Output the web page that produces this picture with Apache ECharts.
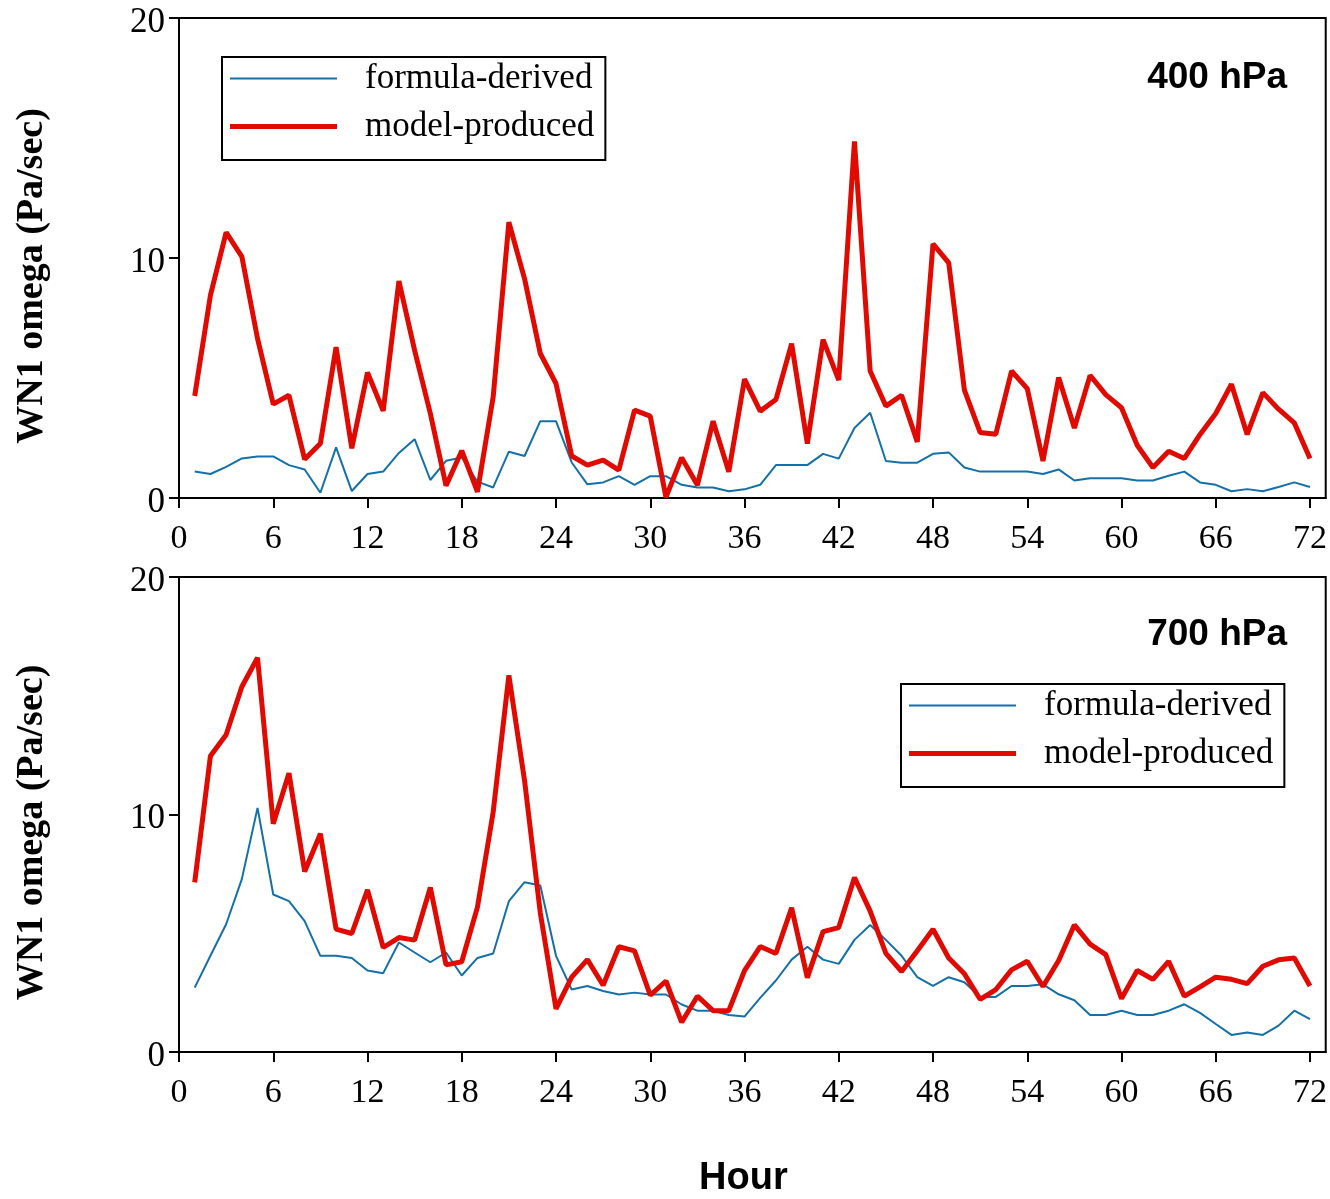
<!DOCTYPE html>
<html>
<head>
<meta charset="utf-8">
<script src="https://cdn.jsdelivr.net/npm/echarts@6/dist/echarts.min.js"></script>
<style>html,body{margin:0;padding:0;background:#fff}#c{width:1330px;height:1199px}</style>
</head>
<body>
<div id="c"></div>
<script>
var hours = [1,2,3,4,5,6,7,8,9,10,11,12,13,14,15,16,17,18,19,20,21,22,23,24,25,26,27,28,29,30,31,32,33,34,35,36,37,38,39,40,41,42,43,44,45,46,47,48,49,50,51,52,53,54,55,56,57,58,59,60,61,62,63,64,65,66,67,68,69,70,71,72];
var xTicks = [0,6,12,18,24,30,36,42,48,54,60,66,72];
var yTicks = [0,10,20];
var seriesNames = ['formula-derived','model-produced'];
var panelLabels = ['400 hPa','700 hPa'];

var formula400 = [1.10,1.00,1.30,1.65,1.73,1.73,1.37,1.19,0.22,2.11,0.29,1.00,1.10,1.88,2.45,0.75,1.55,1.69,0.68,0.44,1.93,1.75,3.20,3.20,
  1.48,0.57,0.65,0.91,0.55,0.91,0.91,0.55,0.44,0.44,0.28,0.36,0.55,1.37,1.37,1.37,1.84,1.64,2.92,3.55,1.54,1.47,1.47,1.84,
  1.90,1.27,1.10,1.10,1.10,1.10,1.00,1.19,0.73,0.82,0.82,0.82,0.73,0.73,0.93,1.10,0.65,0.55,0.28,0.37,0.28,0.46,0.65,0.46];
var model400 = [4.25,8.44,11.07,10.06,6.64,3.91,4.28,1.61,2.27,6.29,2.07,5.23,3.63,9.04,6.15,3.52,0.51,1.97,0.26,4.21,11.49,9.13,6.02,4.77,
  1.75,1.37,1.58,1.16,3.66,3.41,0.03,1.68,0.54,3.20,1.09,4.95,3.62,4.10,6.43,2.27,6.60,4.91,14.86,5.29,3.83,4.28,2.34,10.59,
  9.80,4.49,2.73,2.66,5.29,4.56,1.54,5.02,2.92,5.11,4.31,3.76,2.20,1.27,1.95,1.65,2.65,3.52,4.74,2.65,4.39,3.70,3.13,1.65];
var formula700 = [2.71,4.05,5.38,7.28,10.28,6.63,6.35,5.51,4.05,4.05,3.96,3.43,3.32,4.61,4.19,3.78,4.19,3.22,3.96,4.15,6.35,7.15,7.01,4.05,
  2.63,2.78,2.57,2.42,2.50,2.42,2.42,2.00,1.74,1.74,1.56,1.49,2.28,3.01,3.89,4.43,3.89,3.71,4.72,5.35,4.72,4.05,3.15,2.78,
  3.15,2.94,2.32,2.32,2.78,2.78,2.85,2.43,2.18,1.56,1.56,1.74,1.56,1.56,1.74,2.01,1.65,1.18,0.72,0.82,0.72,1.11,1.74,1.38];
var model700 = [7.14,12.46,13.36,15.38,16.60,9.61,11.74,7.60,9.19,5.17,4.99,6.83,4.40,4.82,4.71,6.93,3.67,3.80,6.10,10.10,15.86,11.42,5.86,1.82,
  3.15,3.89,2.81,4.43,4.26,2.39,2.99,1.25,2.35,1.74,1.74,3.43,4.44,4.15,6.07,3.13,5.07,5.24,7.35,5.93,4.15,3.39,4.26,5.17,
  3.96,3.29,2.22,2.63,3.46,3.82,2.76,3.85,5.35,4.54,4.10,2.25,3.43,3.06,3.82,2.35,2.74,3.15,3.06,2.88,3.61,3.88,3.96,2.78];

function pairs(vals){ return hours.map(function(h,i){ return [h, vals[i]]; }); }

var SERIF = '"Liberation Serif","Times New Roman",serif';
var SANS = '"Liberation Sans",Arial,sans-serif';
var BLUE = '#1470a8', RED = '#e00a00';

function xAx(gi, withName){
  var a = {
    type:'value', gridIndex:gi, min:0, max:73,
    axisLine:{show:true, lineStyle:{color:'#000', width:2}},
    axisTick:{show:true, length:10, lineStyle:{color:'#000', width:2}, customValues:xTicks},
    axisLabel:{fontFamily:SERIF, fontSize:34, color:'#000', margin:24, customValues:xTicks},
    splitLine:{show:false}
  };
  if(withName){
    a.name='Hour'; a.nameLocation='middle'; a.nameGap=108;
    a.nameTextStyle={fontFamily:SANS, fontWeight:'bold', fontSize:38, color:'#000', padding:[0,18,0,0]};
  }
  return a;
}
function yAx(gi){
  return {
    type:'value', gridIndex:gi, min:0, max:20, interval:10,
    name:'WN1 omega (Pa/sec)', nameLocation:'middle', nameGap:128,
    nameTextStyle:{fontFamily:SERIF, fontWeight:'bold', fontSize:38, color:'#000', padding:[0,36,0,0]},
    axisLine:{show:true, lineStyle:{color:'#000', width:2}},
    axisTick:{show:true, length:10, lineStyle:{color:'#000', width:2}},
    axisLabel:{
      margin:14, customValues:yTicks,
      formatter:function(v){ return '{t|' + v + '}'; },
      rich:{t:{fontFamily:SERIF, fontSize:35, color:'#000', padding:[9,0,0,0]}}
    },
    splitLine:{show:false}
  };
}
function legend(left, top){
  return {
    data:[
      {name:seriesNames[0], icon:'path://M0 0H107V2H0Z'},
      {name:seriesNames[1], icon:'path://M0 0H107V5H0Z'}
    ],
    orient:'vertical', left:left, top:top,
    itemWidth:107, itemHeight:14, itemGap:13,
    borderColor:'#000', borderWidth:2, borderRadius:0,
    padding:[4,11,16,8], selectedMode:false,
    textStyle:{fontFamily:SERIF, fontSize:35, color:'#000', lineHeight:34, padding:[0,0,0,23]}
  };
}

var option = {
  animation:false,
  backgroundColor:'#fff',
  grid:[
    {left:179, top:18, width:1147, height:480, show:true, borderColor:'#000', borderWidth:2},
    {left:179, top:577, width:1147, height:479, show:true, borderColor:'#000', borderWidth:2}
  ],
  title:[
    {text:panelLabels[0], right:43, top:59, padding:0, textStyle:{fontFamily:SANS, fontWeight:'bold', fontSize:37, color:'#000'}},
    {text:panelLabels[1], right:43, top:616, padding:0, textStyle:{fontFamily:SANS, fontWeight:'bold', fontSize:37, color:'#000'}}
  ],
  legend:[legend(222,57), legend(901,684)],
  xAxis:[xAx(0,false), xAx(1,true)],
  yAxis:[yAx(0), yAx(1)],
  series:[
    {name:seriesNames[0], type:'line', xAxisIndex:0, yAxisIndex:0, data:pairs(formula400), symbol:'none', lineStyle:{color:BLUE, width:2}, itemStyle:{color:BLUE}},
    {name:seriesNames[1], type:'line', xAxisIndex:0, yAxisIndex:0, data:pairs(model400), symbol:'none', lineStyle:{color:RED, width:5}, itemStyle:{color:RED}},
    {name:seriesNames[0], type:'line', xAxisIndex:1, yAxisIndex:1, data:pairs(formula700), symbol:'none', lineStyle:{color:BLUE, width:2}, itemStyle:{color:BLUE}},
    {name:seriesNames[1], type:'line', xAxisIndex:1, yAxisIndex:1, data:pairs(model700), symbol:'none', lineStyle:{color:RED, width:5}, itemStyle:{color:RED}}
  ]
};
var chart = echarts.init(document.getElementById('c'), null, {renderer:'canvas'});
chart.setOption(option);
</script>
</body>
</html>
